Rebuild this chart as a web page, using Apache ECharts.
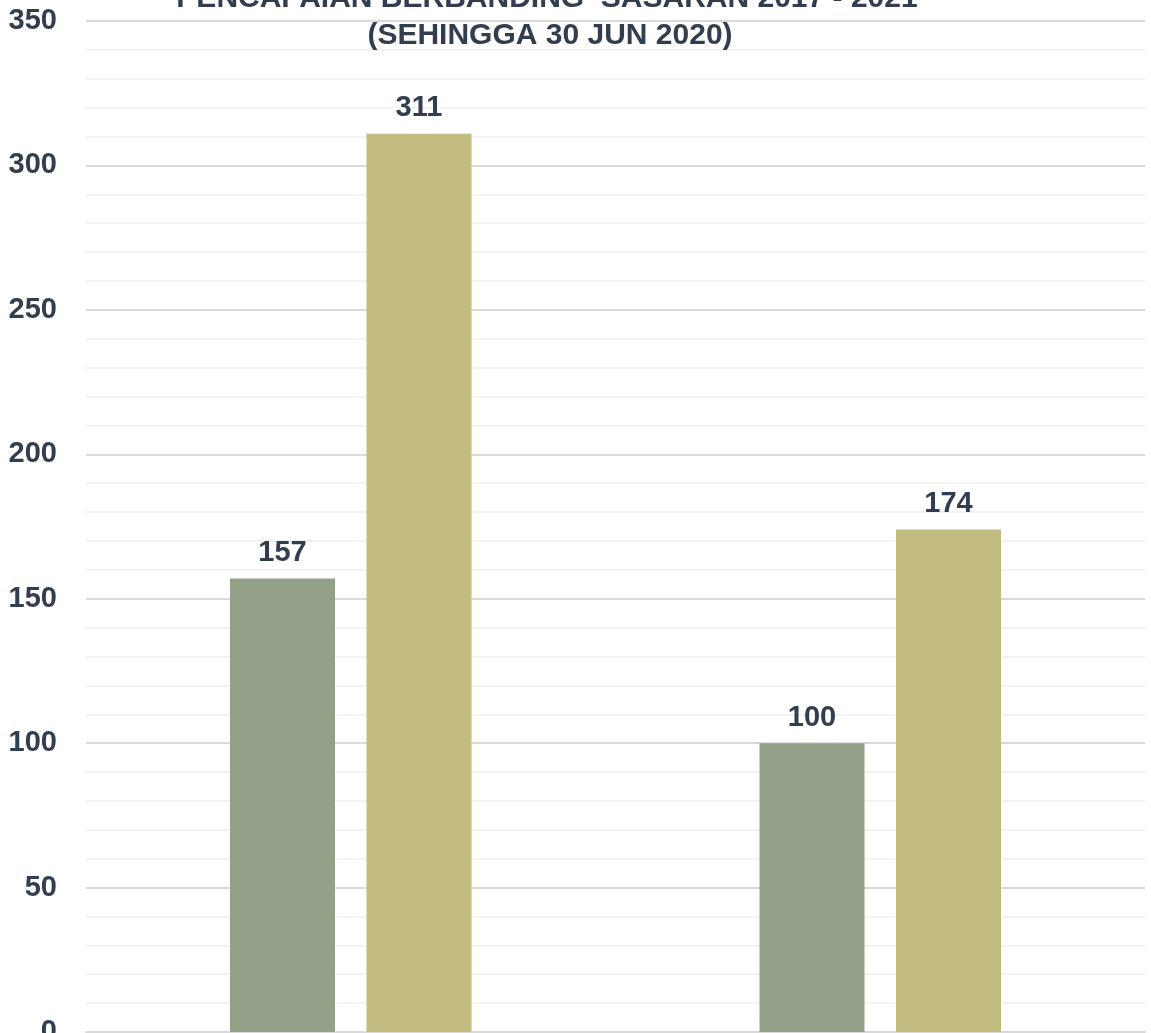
<!DOCTYPE html>
<html>
<head>
<meta charset="utf-8">
<script src="https://cdn.jsdelivr.net/npm/echarts@6/dist/echarts.min.js"></script>
<style>
html,body{margin:0;padding:0;background:#fff;}
#c{width:1151px;height:1033px;}
</style>
</head>
<body>
<div id="c"></div>
<script>
const titleLines = ['PENCAPAIAN BERBANDING  SASARAN 2017 - 2021', '(SEHINGGA 30 JUN 2020)'];
const categories = ['Kategori 1', 'Kategori 2'];
const seriesNames = ['Pencapaian', 'Sasaran'];
const achieved = [157, 100];
const target = [311, 174];
const yTicks = {min: 0, max: 350, interval: 50};

const FONT = '"Liberation Sans", Arial, sans-serif';
const TXT = '#323e4f';

const chart = echarts.init(document.getElementById('c'), null, {renderer: 'canvas'});
const labelCfg = {
  show: true, position: 'top', distance: 11,
  fontFamily: FONT, fontWeight: 'bold', fontSize: 29, color: TXT
};
chart.setOption({
  animation: false,
  backgroundColor: '#ffffff',
  graphic: [
    {type: 'text', x: 547, y: -1.5, scaleX: 1.0, z: 10,
     style: {text: titleLines[0], x: 0, y: 0, align: 'center', verticalAlign: 'middle',
             font: 'bold 30px ' + FONT, fill: TXT}},
    {type: 'text', x: 550, y: 36, scaleX: 1.0, z: 10,
     style: {text: titleLines[1], x: 0, y: 0, align: 'center', verticalAlign: 'middle',
             font: 'bold 30px ' + FONT, fill: TXT}}
  ],
  grid: {left: 86, right: 6, top: 21, bottom: 1, outerBoundsMode: 'none', containLabel: false},
  xAxis: {
    type: 'category', data: categories,
    axisLine: {show: true, lineStyle: {color: '#d9d9d9', width: 2}},
    axisTick: {show: false}, axisLabel: {show: false}, splitLine: {show: false}
  },
  yAxis: {
    type: 'value', min: yTicks.min, max: yTicks.max, interval: yTicks.interval,
    axisLine: {show: false}, axisTick: {show: false},
    axisLabel: {margin: 29, fontFamily: FONT, fontWeight: 'bold', fontSize: 29, color: TXT},
    splitLine: {show: true, lineStyle: {color: '#d9d9d9', width: 2}},
    minorTick: {show: false, splitNumber: 5},
    minorSplitLine: {show: true, lineStyle: {color: '#f2f2f2', width: 2}}
  },
  series: [
    {name: seriesNames[0], type: 'bar', data: achieved, barWidth: 105, barGap: '30%',
     itemStyle: {color: '#95a088'}, label: labelCfg, z: 3},
    {name: seriesNames[1], type: 'bar', data: target, barWidth: 105, barGap: '30%',
     itemStyle: {color: '#c2bc80'}, label: labelCfg, z: 3}
  ]
});
</script>
</body>
</html>
